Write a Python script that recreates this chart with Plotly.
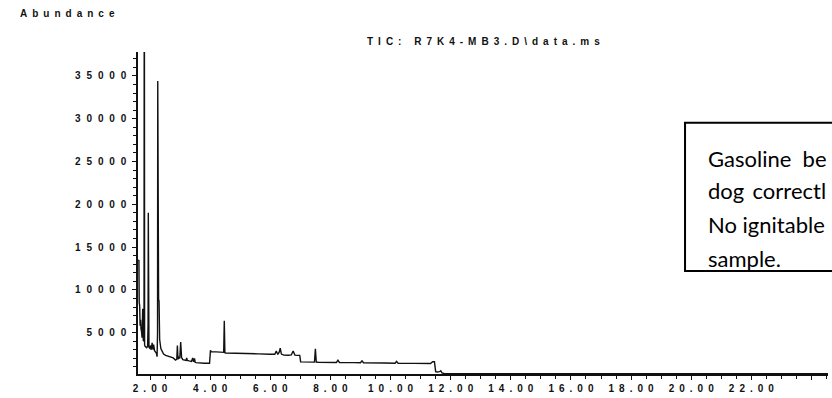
import plotly.graph_objects as go

# Retention time (min) and total ion current abundance of the TIC trace
rt = [1.605, 1.63, 1.64, 1.655, 1.67, 1.685, 1.70, 1.715, 1.735, 1.757, 1.775, 1.79, 1.80, 1.81, 1.82,
      1.835, 1.86, 1.89, 1.92, 1.935, 1.943, 1.952, 1.965, 1.99, 2.02, 2.04, 2.07, 2.10, 2.12, 2.15,
      2.18, 2.21, 2.235, 2.25, 2.257, 2.265, 2.285, 2.30, 2.32, 2.36, 2.39, 2.45, 2.52, 2.56, 2.65,
      2.77, 2.85, 2.89, 2.91, 2.93, 2.96, 2.99, 3.02, 3.05, 3.09, 3.15, 3.20, 3.22, 3.24, 3.30,
      3.38, 3.42, 3.45, 3.48, 3.50, 3.53, 3.65, 3.80, 3.98, 4.01, 4.03, 4.20, 4.40, 4.45, 4.47,
      4.49, 4.52, 4.80, 5.20, 5.60, 6.00, 6.15, 6.20, 6.25, 6.30, 6.33, 6.37, 6.45, 6.60, 6.70,
      6.76, 6.82, 6.90, 6.98, 7.01, 7.10, 7.40, 7.47, 7.50, 7.53, 7.60, 8.00, 8.20, 8.25, 8.30,
      8.80, 9.00, 9.05, 9.10, 9.80, 10.15, 10.20, 10.25, 10.80, 11.33, 11.40, 11.46, 11.50,
      11.55, 11.63, 11.67, 11.71, 11.80, 24.55]
tic = [13400, 13500, 8500, 8200, 5800, 6500, 5400, 5200, 4400, 7800, 4100, 4000, 4300, 60000, 3600,
       3400, 3300, 3250, 3400, 6000, 19000, 5200, 3300, 3200, 3500, 3000, 3800, 3000, 3600, 2900,
       2700, 2600, 2200, 5000, 34400, 12000, 8900, 8700, 4200, 3150, 2900, 2500, 2350, 2300, 2200,
       2050, 1800, 1900, 3500, 1900, 2100, 2000, 3900, 2100, 1850, 1750, 1750, 2050, 1750, 1700,
       1650, 2050, 1600, 2000, 1550, 1500, 1450, 1430, 1430, 2930, 2780, 2750, 2720, 2700, 6380,
       2650, 2630, 2620, 2560, 2520, 2480, 2470, 2850, 2450, 2750, 3200, 2500, 2380, 2360, 2400,
       2850, 2380, 2350, 2350, 1590, 1580, 1560, 1560, 3120, 1560, 1550, 1530, 1520, 1780, 1520,
       1500, 1480, 1700, 1480, 1450, 1430, 1650, 1430, 1410, 1400, 1600, 1600, 440,
       400, 440, 550, 300, 200, 200]

# Axis ticks
x_tick_vals = [2, 4, 6, 8, 10, 12, 14, 16, 18, 20, 22, 24]
x_tick_names = ["2.00", "4.00", "6.00", "8.00", "10.00", "12.00", "14.00",
                "16.00", "18.00", "20.00", "22.00", ""]
y_tick_vals = [5000, 10000, 15000, 20000, 25000, 30000, 35000]
y_tick_names = ["5000", "10000", "15000", "20000", "25000", "30000", "35000"]

title_text = "TIC: R7K4-MB3.D\\data.ms"
y_title = "Abundance"
NB = "\u00a0"
note_lines = ["Gasoline" + NB * 2 + "be",
              "dog" + NB + "\u2009correctl",
              "No ignitable",
              "sample."]

EN = "\u2002"


def spaced(s, gap=EN):
    return gap.join(list(s))


ink = "#111111"
fig = go.Figure()
fig.add_trace(go.Scatter(x=rt, y=tic, mode="lines",
                         line=dict(color=ink, width=1.4),
                         hoverinfo="skip", showlegend=False))

axis_font = dict(family="Liberation Sans, Arial, sans-serif", size=10,
                 color=ink, weight="bold")

fig.update_layout(
    width=832, height=398,
    margin=dict(l=138, r=4, t=52, b=19),
    paper_bgcolor="white", plot_bgcolor="white",
    xaxis=dict(range=[1.6, 24.55], showgrid=False, zeroline=False,
               showline=True, linecolor=ink, linewidth=1.5,
               tickmode="array", tickvals=x_tick_vals,
               ticktext=[spaced(t) for t in x_tick_names],
               ticks="outside", ticklen=4, tickwidth=1, tickcolor=ink,
               tickfont=axis_font, ticklabelstandoff=0,
               minor=dict(dtick=0.5, tick0=0, ticks="outside", ticklen=3,
                          tickwidth=1, tickcolor=ink)),
    yaxis=dict(range=[170, 37800], showgrid=False, zeroline=False,
               showline=True, linecolor=ink, linewidth=1.5,
               tickmode="array", tickvals=y_tick_vals,
               ticktext=[spaced(t, EN + "\u200a") for t in y_tick_names],
               ticks="outside", ticklen=4, tickwidth=1, tickcolor=ink,
               tickfont=axis_font, ticklabelstandoff=4,
               minor=dict(dtick=1000, tick0=0, ticks="outside", ticklen=3,
                          tickwidth=1, tickcolor=ink)),
)

# Chromatogram heading and y-axis caption
fig.add_annotation(text=spaced(title_text), xref="paper", yref="paper",
                   x=0.5, y=1.0, yshift=3, xanchor="center", yanchor="bottom",
                   showarrow=False, font=axis_font)
fig.add_annotation(text=spaced(y_title), xref="paper", yref="paper",
                   x=-0.174, y=1.119, xanchor="left", yanchor="middle",
                   showarrow=False, font=axis_font)

# Comment box on the right
fig.add_shape(type="rect", xref="paper", yref="paper",
              x0=0.7928, x1=1.3, y0=0.32, y1=0.78,
              line=dict(color="black", width=2), fillcolor="white", layer="above")
note_y = [0.670, 0.569, 0.465, 0.358]
for line, yy in zip(note_lines, note_y):
    fig.add_annotation(text=line, xref="paper", yref="paper",
                       x=0.823, y=yy, xanchor="left", yanchor="middle",
                       showarrow=False,
                       font=dict(family="Lato, Noto Sans, sans-serif",
                                 size=22, color="black"))

fig.write_html("out.html", config={"displayModeBar": False, "responsive": False})
